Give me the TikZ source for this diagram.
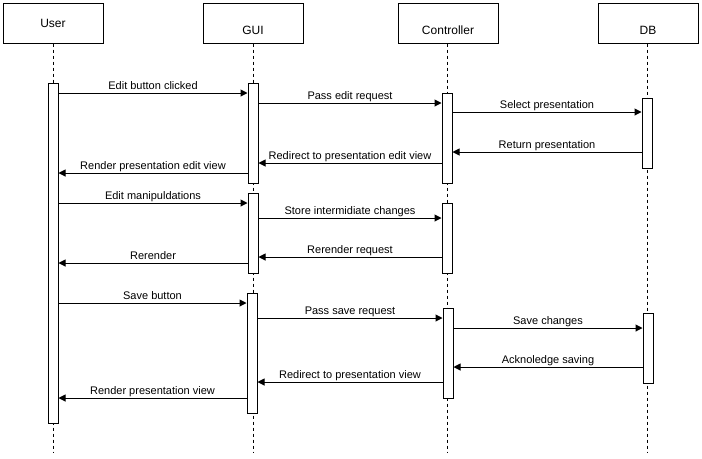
\documentclass[tikz,border=0pt]{standalone}
\usepackage{fontspec}
\setmainfont{Liberation Sans}
\usetikzlibrary{arrows.meta}
\begin{document}
\begin{tikzpicture}[x=0.75pt,y=-0.75pt,
  hdr/.style={draw, line width=0.75pt, minimum width=75pt, minimum height=30pt, inner sep=0pt, font=\fontsize{9}{11}\selectfont},
  hdrtxt/.style={font=\fontsize{9}{11}\selectfont, inner sep=0pt},
  act/.style={draw, fill=white, line width=0.75pt, minimum width=7.5pt, inner sep=0pt},
  life/.style={line width=0.75pt, dash pattern=on 2.25pt off 2.25pt},
  msg/.style={line width=0.75pt, -{Triangle[length=5.25pt,width=5.25pt]}},
  lbl/.style={midway, anchor=base, yshift=3pt, inner sep=0pt, font=\fontsize{8.25}{10}\selectfont}
]
\useasboundingbox (0,0) rectangle (702,458);
\fill[white] (0,0) rectangle (702,458);

% headers
\node[hdr] (user) at (53,23) {User};
\node[hdr, label={[hdrtxt,yshift=-5.5pt]center:GUI}] (gui) at (253,23) {};
\node[hdr, label={[hdrtxt,yshift=-5.5pt]center:Controller}] (ctrl) at (448,23) {};
\node[hdr, label={[hdrtxt,yshift=-5.5pt]center:DB}] (db) at (648,23) {};

% lifeline ends
\coordinate (uend) at (53,453);
\coordinate (gend) at (253,453);
\coordinate (cend) at (447,453);
\coordinate (dend) at (647,453);
\draw[life] (user.south -| uend) -- (uend);
\draw[life] (gui.south -| gend) -- (gend);
\draw[life] (ctrl.south -| cend) -- (cend);
\draw[life] (db.south -| dend) -- (dend);

% activations
\node[act, minimum height=255pt] (ua) at (53,253) {};
\node[act, minimum height=75pt] (ga1) at (253,133) {};
\node[act, minimum height=60pt] (ga2) at (253,233) {};
\node[act, minimum height=90pt] (ga3) at (252,353) {};
\node[act, minimum height=67.5pt] (ca1) at (447,138) {};
\node[act, minimum height=52.5pt] (ca2) at (447,238) {};
\node[act, minimum height=67.5pt] (ca3) at (448,353) {};
\node[act, minimum height=52.5pt] (da1) at (647,133) {};
\node[act, minimum height=52.5pt] (da2) at (648,348) {};

% message levels
\coordinate (m1) at (0,93);
\coordinate (m2) at (0,103);
\coordinate (m3) at (0,112);
\coordinate (m4) at (0,152);
\coordinate (m5) at (0,163);
\coordinate (m6) at (0,173);
\coordinate (m7) at (0,203);
\coordinate (m8) at (0,218);
\coordinate (m9) at (0,257);
\coordinate (m10) at (0,263);
\coordinate (m11) at (0,303);
\coordinate (m12) at (0,318);
\coordinate (m13) at (0,328);
\coordinate (m14) at (0,367);
\coordinate (m15) at (0,382);
\coordinate (m16) at (0,398);

\draw[msg] (ua.east |- m1) -- (ga1.west |- m1) node[lbl]{Edit button clicked};
\draw[msg] (ga1.east |- m2) -- (ca1.west |- m2) node[lbl]{Pass edit request};
\draw[msg] (ca1.east |- m3) -- (da1.west |- m3) node[lbl]{Select presentation};
\draw[msg] (da1.west |- m4) -- (ca1.east |- m4) node[lbl]{Return presentation};
\draw[msg] (ca1.west |- m5) -- (ga1.east |- m5) node[lbl]{Redirect to presentation edit view};
\draw[msg] (ga1.west |- m6) -- (ua.east |- m6) node[lbl]{Render presentation edit view};
\draw[msg] (ua.east |- m7) -- (ga2.west |- m7) node[lbl]{Edit manipuldations};
\draw[msg] (ga2.east |- m8) -- (ca2.west |- m8) node[lbl]{Store intermidiate changes};
\draw[msg] (ca2.west |- m9) -- (ga2.east |- m9) node[lbl]{Rerender request};
\draw[msg] (ga2.west |- m10) -- (ua.east |- m10) node[lbl]{Rerender};
\draw[msg] (ua.east |- m11) -- (ga3.west |- m11) node[lbl]{Save button};
\draw[msg] (ga3.east |- m12) -- (ca3.west |- m12) node[lbl]{Pass save request};
\draw[msg] (ca3.east |- m13) -- (da2.west |- m13) node[lbl]{Save changes};
\draw[msg] (da2.west |- m14) -- (ca3.east |- m14) node[lbl]{Acknoledge saving};
\draw[msg] (ca3.west |- m15) -- (ga3.east |- m15) node[lbl]{Redirect to presentation view};
\draw[msg] (ga3.west |- m16) -- (ua.east |- m16) node[lbl]{Render presentation view};
\end{tikzpicture}
\end{document}
